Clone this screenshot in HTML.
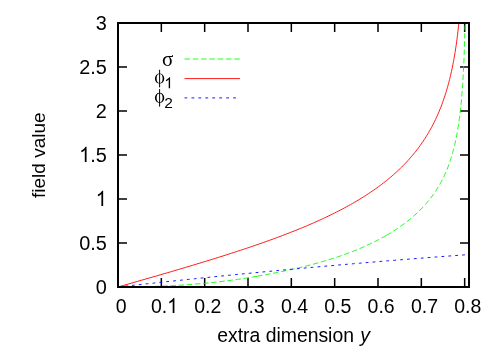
<!DOCTYPE html>
<html><head><meta charset="utf-8"><title>plot</title>
<style>html,body{margin:0;padding:0;background:#fff;}body{width:498px;height:349px;position:relative;overflow:hidden;font-family:"Liberation Sans",sans-serif;}</style>
</head><body>
<svg width="498" height="349" viewBox="0 0 498 349" style="position:absolute;left:0;top:0;will-change:transform">
<rect width="498" height="349" fill="#fff"/>
<g stroke="#000" fill="none">
<path d="M161.33,287 V278 M161.33,23 V32 M204.67,287 V278 M204.67,23 V32 M248.00,287 V278 M248.00,23 V32 M291.33,287 V278 M291.33,23 V32 M334.67,287 V278 M334.67,23 V32 M378.00,287 V278 M378.00,23 V32 M421.33,287 V278 M421.33,23 V32 M464.67,287 V278 M464.67,23 V32 M118,243.00 H127 M469,243.00 H460 M118,199.00 H127 M469,199.00 H460 M118,155.00 H127 M469,155.00 H460 M118,111.00 H127 M469,111.00 H460 M118,67.00 H127 M469,67.00 H460" stroke-width="1.5"/>
</g>
<g fill="none" stroke-width="0.9">
<path d="M118.00,287.00 L122.00,286.99 L125.98,286.98 L129.92,286.94 L133.83,286.90 L137.72,286.84 L141.57,286.77 L145.39,286.69 L149.18,286.59 L152.94,286.48 L156.67,286.35 L160.37,286.21 L164.04,286.06 L167.69,285.89 L171.30,285.71 L174.88,285.51 L178.43,285.31 L181.96,285.08 L185.45,284.85 L188.92,284.60 L192.36,284.34 L195.77,284.06 L199.15,283.77 L202.50,283.47 L205.83,283.16 L209.12,282.83 L212.39,282.50 L215.63,282.15 L218.84,281.78 L222.02,281.41 L225.18,281.02 L228.31,280.63 L231.41,280.22 L234.49,279.80 L237.54,279.37 L240.56,278.93 L243.55,278.48 L246.52,278.02 L249.46,277.55 L252.37,277.07 L255.26,276.58 L257.00,276.28" stroke="#00ff00" stroke-dasharray="5.5 2.680" stroke-dashoffset="4.87"/>
<path d="M257.00,276.28 L258.12,276.08 L260.96,275.58 L263.76,275.06 L266.55,274.54 L269.31,274.02 L272.04,273.50 L274.74,272.96 L277.42,272.43 L280.08,271.89 L282.71,271.35 L285.32,270.80 L287.90,270.25 L290.45,269.69 L292.98,269.13 L295.49,268.56 L297.97,267.99 L300.43,267.41 L302.86,266.83 L305.27,266.24 L307.66,265.64 L310.02,265.04 L312.36,264.43 L314.67,263.81 L316.96,263.19 L319.23,262.56 L321.47,261.93 L323.69,261.28 L325.89,260.63 L328.07,259.98 L330.22,259.31 L332.35,258.64 L334.46,257.96 L336.54,257.28 L338.60,256.58 L340.64,255.89 L342.66,255.18 L344.66,254.47 L346.63,253.74 L348.58,253.02 L350.52,252.28 L352.43,251.54 L354.31,250.80 L356.18,250.04 L358.03,249.28 L359.85,248.51 L361.66,247.74 L363.44,246.96 L365.20,246.17 L366.94,245.38 L368.67,244.58 L370.37,243.78 L372.05,242.97 L373.71,242.16 L375.35,241.33 L376.97,240.51 L378.58,239.67 L380.16,238.84 L381.72,237.99 L383.27,237.14 L384.79,236.29 L386.20,235.48" stroke="#00ff00" stroke-dasharray="5.5 2.680"/>
<path d="M386.20,235.48 L386.30,235.43 L387.78,234.56 L389.25,233.69 L390.70,232.81 L392.13,231.93 L393.54,231.04 L394.94,230.15 L396.31,229.25 L397.67,228.34 L399.01,227.43 L400.33,226.52 L401.64,225.60 L402.92,224.67 L404.19,223.73 L405.44,222.79 L406.68,221.85 L407.89,220.90 L409.09,219.94 L410.28,218.97 L411.44,218.00 L412.59,217.03 L413.73,216.04 L414.85,215.05 L415.95,214.05 L417.04,213.05 L418.11,212.04 L419.16,211.02 L420.20,209.99 L421.22,208.95 L422.23,207.91 L423.23,206.86 L424.20,205.80 L425.17,204.73 L426.12,203.66 L427.05,202.57 L427.97,201.48 L428.87,200.38 L429.76,199.26 L430.64,198.14 L431.50,197.01 L432.35,195.87 L433.18,194.72 L434.00,193.56 L434.81,192.38 L435.60,191.20 L436.38,190.01 L437.15,188.80 L437.90,187.58 L438.64,186.36 L439.37,185.11 L440.08,183.86 L440.78,182.60 L441.47,181.32 L442.15,180.03 L442.81,178.72 L443.47,177.40 L444.11,176.07 L444.73,174.72 L445.35,173.36 L445.95,171.98 L446.54,170.59 L447.11,169.19 L447.68,167.76 L448.23,166.32 L448.77,164.87 L449.30,163.39 L449.82,161.90 L450.32,160.39 L450.82,158.87 L451.30,157.32 L451.78,155.76 L452.24,154.17 L452.70,152.57 L453.14,150.95 L453.57,149.30 L454.00,147.64 L454.41,145.95 L454.82,144.24 L455.21,142.51 L455.59,140.75 L455.97,138.97 L456.34,137.16 L456.69,135.33 L457.04,133.48 L457.38,131.60 L457.71,129.69 L458.03,127.75 L458.35,125.78 L458.65,123.79 L458.95,121.76 L459.23,119.70 L459.52,117.62 L459.79,115.49 L460.05,113.34 L460.31,111.15 L460.56,108.92 L460.80,106.66 L461.03,104.36 L461.26,102.02 L461.48,99.63 L461.70,97.21 L461.90,94.74 L462.10,92.23 L462.30,89.67 L462.48,87.07 L462.66,84.41 L462.84,81.70 L463.01,78.94 L463.17,76.12 L463.32,73.25 L463.48,70.31 L463.62,67.31 L463.76,64.25 L463.90,61.11 L464.03,57.91 L464.15,54.63 L464.27,51.28 L464.38,47.84 L464.49,44.32 L464.60,40.71 L464.70,37.00 L464.80,33.20 L464.89,29.29 L464.98,25.27" stroke="#00ff00" stroke-dasharray="5.5 2.810"/>
<path d="M118.00,287.00 L122.00,285.85 L125.98,284.71 L129.92,283.58 L133.83,282.45 L137.72,281.34 L141.57,280.23 L145.39,279.13 L149.18,278.04 L152.94,276.95 L156.67,275.87 L160.37,274.80 L164.04,273.73 L167.69,272.67 L171.30,271.61 L174.88,270.56 L178.43,269.51 L181.96,268.47 L185.45,267.43 L188.92,266.40 L192.36,265.37 L195.77,264.35 L199.15,263.32 L202.50,262.31 L205.83,261.29 L209.12,260.28 L212.39,259.27 L215.63,258.26 L218.84,257.26 L222.02,256.26 L225.18,255.26 L228.31,254.26 L231.41,253.27 L234.49,252.27 L237.54,251.28 L240.56,250.29 L243.55,249.30 L246.52,248.31 L249.46,247.32 L252.37,246.33 L255.26,245.34 L258.12,244.35 L260.96,243.36 L263.76,242.37 L266.55,241.39 L269.31,240.40 L272.04,239.41 L274.74,238.42 L277.42,237.43 L280.08,236.44 L282.71,235.44 L285.32,234.45 L287.90,233.45 L290.45,232.46 L292.98,231.46 L295.49,230.46 L297.97,229.46 L300.43,228.45 L302.86,227.45 L305.27,226.44 L307.66,225.43 L310.02,224.42 L312.36,223.40 L314.67,222.39 L316.96,221.37 L319.23,220.34 L321.47,219.32 L323.69,218.29 L325.89,217.26 L328.07,216.22 L330.22,215.18 L332.35,214.14 L334.46,213.09 L336.54,212.04 L338.60,210.99 L340.64,209.93 L342.66,208.87 L344.66,207.80 L346.63,206.73 L348.58,205.66 L350.52,204.58 L352.43,203.50 L354.31,202.41 L356.18,201.32 L358.03,200.22 L359.85,199.12 L361.66,198.01 L363.44,196.90 L365.20,195.78 L366.94,194.66 L368.67,193.53 L370.37,192.40 L372.05,191.26 L373.71,190.11 L375.35,188.96 L376.97,187.80 L378.58,186.64 L380.16,185.47 L381.72,184.29 L383.27,183.11 L384.79,181.92 L386.30,180.72 L387.78,179.52 L389.25,178.31 L390.70,177.10 L392.13,175.87 L393.54,174.64 L394.94,173.40 L396.31,172.16 L397.67,170.91 L399.01,169.65 L400.33,168.38 L401.64,167.10 L402.92,165.82 L404.19,164.52 L405.44,163.22 L406.68,161.91 L407.89,160.59 L409.09,159.27 L410.28,157.93 L411.44,156.59 L412.59,155.23 L413.73,153.87 L414.84,152.49 L415.94,151.11 L417.03,149.72 L418.10,148.32 L419.15,146.90 L420.18,145.48 L421.20,144.05 L422.21,142.60 L423.20,141.15 L424.17,139.68 L425.13,138.20 L426.08,136.71 L427.01,135.21 L427.92,133.70 L428.82,132.18 L429.70,130.64 L430.57,129.09 L431.43,127.53 L432.27,125.95 L433.10,124.37 L433.91,122.77 L434.71,121.15 L435.50,119.52 L436.27,117.88 L437.03,116.22 L437.77,114.55 L438.51,112.87 L439.22,111.17 L439.93,109.45 L440.62,107.72 L441.30,105.97 L441.97,104.20 L442.62,102.42 L443.27,100.62 L443.90,98.81 L444.51,96.97 L445.12,95.12 L445.71,93.25 L446.29,91.36 L446.86,89.46 L447.42,87.53 L447.97,85.58 L448.50,83.61 L449.03,81.63 L449.54,79.62 L450.04,77.59 L450.53,75.53 L451.01,73.45 L451.48,71.35 L451.94,69.23 L452.39,67.08 L452.83,64.91 L453.26,62.71 L453.67,60.49 L454.08,58.24 L454.48,55.96 L454.87,53.65 L455.25,51.31 L455.62,48.95 L455.98,46.55 L456.33,44.13 L456.67,41.67 L457.00,39.18 L457.32,36.65 L457.64,34.09 L457.95,31.49 L458.24,28.86 L458.53,26.19 L458.81,23.48" stroke="#ff0000"/>
<path d="M118.00,287.00 L123.89,286.34 L129.77,285.69 L135.66,285.04 L141.55,284.40 L147.43,283.76 L153.32,283.12 L159.21,282.49 L165.09,281.86 L170.98,281.23 L176.86,280.61 L182.75,279.99 L188.64,279.38 L194.52,278.77 L200.41,278.16 L206.30,277.56 L212.18,276.96 L218.07,276.36 L223.96,275.77 L229.84,275.18 L235.73,274.60 L241.62,274.02 L247.50,273.44 L253.39,272.87 L259.27,272.30 L265.16,271.74 L271.05,271.18 L276.93,270.62 L282.82,270.07 L288.71,269.52 L294.59,268.97 L300.48,268.43 L306.37,267.89 L312.25,267.36 L318.14,266.83 L324.03,266.30 L329.91,265.78 L335.80,265.26 L341.68,264.74 L347.57,264.23 L353.46,263.73 L359.34,263.22 L365.23,262.72 L371.12,262.23 L377.00,261.73 L382.89,261.24 L388.78,260.76 L394.66,260.28 L400.55,259.80 L406.44,259.33 L412.32,258.86 L418.21,258.39 L424.09,257.93 L429.98,257.47 L435.87,257.02 L441.75,256.57 L447.64,256.12 L453.53,255.68 L459.41,255.24 L465.30,254.81" stroke="#0000ff" stroke-dasharray="2.8 4.108" stroke-dashoffset="-0.2"/>
<path d="M184.5,59 H240" stroke="#00ff00" stroke-dasharray="5.5 2.8"/>
<path d="M184.5,78.6 H240" stroke="#ff0000"/>
<path d="M184.5,97.9 H240" stroke="#0000ff" stroke-dasharray="2.8 4.15"/>
</g>
<rect x="118" y="23" width="351" height="264" stroke="#000" fill="none" stroke-width="2"/>
<g font-family="Liberation Sans, sans-serif" font-size="19.5px" fill="#000">
<text transform="translate(115.68,313.00) scale(1.0,1.08)" text-anchor="start" font-size="19.5px">0</text>
<text transform="translate(150.88,313.00) scale(1.0,1.08)" text-anchor="start" font-size="19.5px">0.</text><path transform="translate(167.14,313.00) scale(0.009521,-0.010283)" d="M763,0L583,0L583,1147Q518,1085 412.5,1023T223,930L223,1104Q376,1176 490.5,1278.5T653,1466L763,1466Z"/>
<text transform="translate(194.21,313.00) scale(1.0,1.08)" text-anchor="start" font-size="19.5px">0.2</text>
<text transform="translate(237.55,313.00) scale(1.0,1.08)" text-anchor="start" font-size="19.5px">0.3</text>
<text transform="translate(280.88,313.00) scale(1.0,1.08)" text-anchor="start" font-size="19.5px">0.4</text>
<text transform="translate(324.21,313.00) scale(1.0,1.08)" text-anchor="start" font-size="19.5px">0.5</text>
<text transform="translate(367.55,313.00) scale(1.0,1.08)" text-anchor="start" font-size="19.5px">0.6</text>
<text transform="translate(410.88,313.00) scale(1.0,1.08)" text-anchor="start" font-size="19.5px">0.7</text>
<text transform="translate(454.21,313.00) scale(1.0,1.08)" text-anchor="start" font-size="19.5px">0.8</text>
<text transform="translate(95.74,293.90) scale(1.02,1.08)" text-anchor="start" font-size="19.5px">0</text>
<text transform="translate(79.15,249.90) scale(1.02,1.08)" text-anchor="start" font-size="19.5px">0.5</text>
<path transform="translate(95.74,205.90) scale(0.009712,-0.010283)" d="M763,0L583,0L583,1147Q518,1085 412.5,1023T223,930L223,1104Q376,1176 490.5,1278.5T653,1466L763,1466Z"/>
<path transform="translate(79.15,161.90) scale(0.009712,-0.010283)" d="M763,0L583,0L583,1147Q518,1085 412.5,1023T223,930L223,1104Q376,1176 490.5,1278.5T653,1466L763,1466Z"/><text transform="translate(90.21,161.90) scale(1.02,1.08)" text-anchor="start" font-size="19.5px">.5</text>
<text transform="translate(95.74,117.90) scale(1.02,1.08)" text-anchor="start" font-size="19.5px">2</text>
<text transform="translate(79.15,73.90) scale(1.02,1.08)" text-anchor="start" font-size="19.5px">2.5</text>
<text transform="translate(95.74,29.90) scale(1.02,1.08)" text-anchor="start" font-size="19.5px">3</text>
<text transform="translate(217.30,342.20) scale(0.9934,1.0)" text-anchor="start" font-size="19.5px">extra dimension</text>
<text transform="translate(360.2,342.2)" font-size="19.5px" font-style="italic">y</text>
<text transform="translate(45.10,155.20) rotate(-90)" text-anchor="middle" font-size="19.05px">field value</text>
<text x="173.3" y="65.6" text-anchor="end" font-family="Liberation Serif, serif" font-size="21px">σ</text>
<path fill-rule="evenodd" d="M154.9,78.55 a4.7,5.05 0 1,0 9.4,0 a4.7,5.05 0 1,0 -9.4,0 Z M156.6,78.55 a3.0,4.45 0 1,0 6.0,0 a3.0,4.45 0 1,0 -6.0,0 Z"/><path d="M159.6,69.75 V87.35" stroke="#000" stroke-width="1" fill="none"/>
<path fill-rule="evenodd" d="M154.9,97.85 a4.7,5.05 0 1,0 9.4,0 a4.7,5.05 0 1,0 -9.4,0 Z M156.6,97.85 a3.0,4.45 0 1,0 6.0,0 a3.0,4.45 0 1,0 -6.0,0 Z"/><path d="M159.6,89.05 V106.64999999999999" stroke="#000" stroke-width="1" fill="none"/>
<path transform="translate(164.30,88.30) scale(0.007568,-0.007568)" d="M763,0L583,0L583,1147Q518,1085 412.5,1023T223,930L223,1104Q376,1176 490.5,1278.5T653,1466L763,1466Z"/>
<text x="164.3" y="107.6" font-size="15.5px">2</text>
</g>
</svg>
</body></html>
